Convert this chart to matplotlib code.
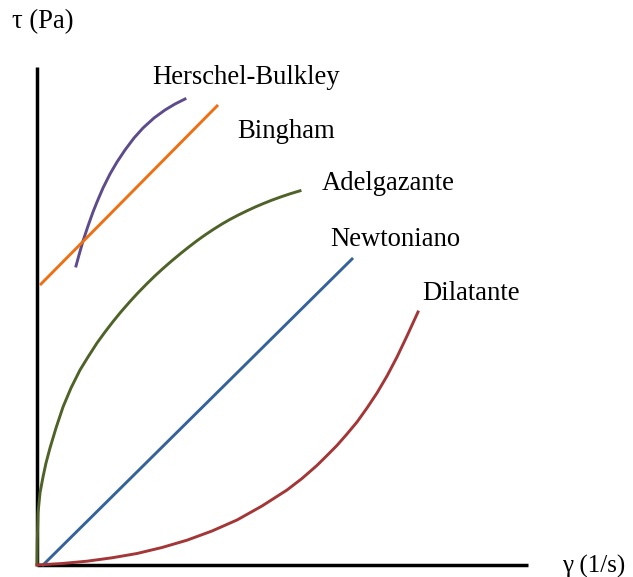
import matplotlib.pyplot as plt

# 模式図の値 (原点からのオフセット単位)
newt_x = [6, 315]
newt_y = [0, 306]

bing_x = [4, 180]
bing_y = [281, 459]

hb_x = [39, 42, 46, 51, 56, 60, 66, 73, 80, 88, 97, 106, 117, 128, 138, 148]
hb_y = [299, 310, 324, 339, 353, 363, 377, 391, 403, 415, 427, 437, 447, 455, 461, 466]

adel_x = [0, 0.3, 1, 3, 6, 9, 13, 19, 26, 34, 43, 51, 60, 68, 76, 84, 93, 101, 110, 118,
          126, 134, 143, 151, 160, 168, 177, 185, 193, 201, 210, 218, 226, 235, 245, 254, 263]
adel_y = [0, 25, 52, 72, 88, 102, 117, 137, 158, 177, 195, 208, 222, 233, 243.4, 253.2,
          263.5, 272.2, 281.4, 289.2, 296.5, 303.5, 311, 317.4, 324.3, 330, 336, 341,
          345.6, 349.8, 354.2, 357.9, 361.3, 364.9, 368.5, 371.5, 374.2]

dila_x = [0, 25, 50, 75, 100, 125, 150, 175, 200, 225, 250, 265, 280, 290, 300, 310,
          320, 330, 340, 350, 360, 370, 381]
dila_y = [0, 1.5, 3.8, 7.2, 11.5, 17.5, 24.8, 34, 45, 59, 75, 86.5, 99.6, 109.5, 119.6,
          131, 143, 157, 172, 189, 208, 229, 253]

plt.rcParams["font.family"] = ["Liberation Serif", "DejaVu Serif"]
fs = 19.2

fig = plt.figure(figsize=(6.33, 5.77), dpi=100)
ax = fig.add_axes([0, 0, 1, 1])
ax.set_xlim(-37, 596)
ax.set_ylim(-12, 565)
ax.axis("off")

# 軸
ax.plot([0, 0], [0, 498], color="black", lw=2.5, solid_capstyle="butt")
ax.plot([0, 491], [0, 0], color="black", lw=2.5, solid_capstyle="butt")

# 曲線
lw = 2.1
ax.plot(hb_x, hb_y, color="#5E4B8C", lw=lw)
ax.plot(bing_x, bing_y, color="#EE7012", lw=lw)
ax.plot(adel_x, adel_y, color="#4F6228", lw=lw)
ax.plot(newt_x, newt_y, color="#34629A", lw=lw)
ax.plot(dila_x, dila_y, color="#A33636", lw=lw)

# ラベル
ax.text(115, 487, "Herschel-Bulkley", fontsize=fs, ha="left", va="center")
ax.text(200, 434, "Bingham", fontsize=fs, ha="left", va="center")
ax.text(285, 382, "Adelgazante", fontsize=fs, ha="left", va="center")
ax.text(293, 325, "Newtoniano", fontsize=fs, ha="left", va="center")
ax.text(385, 272, "Dilatante", fontsize=fs, ha="left", va="center")
ax.text(-25, 543, "τ (Pa)", fontsize=fs, ha="left", va="center")
ax.text(525, -1, "γ (1/s)", fontsize=18, ha="left", va="center")

plt.savefig("out.png", dpi=100)
